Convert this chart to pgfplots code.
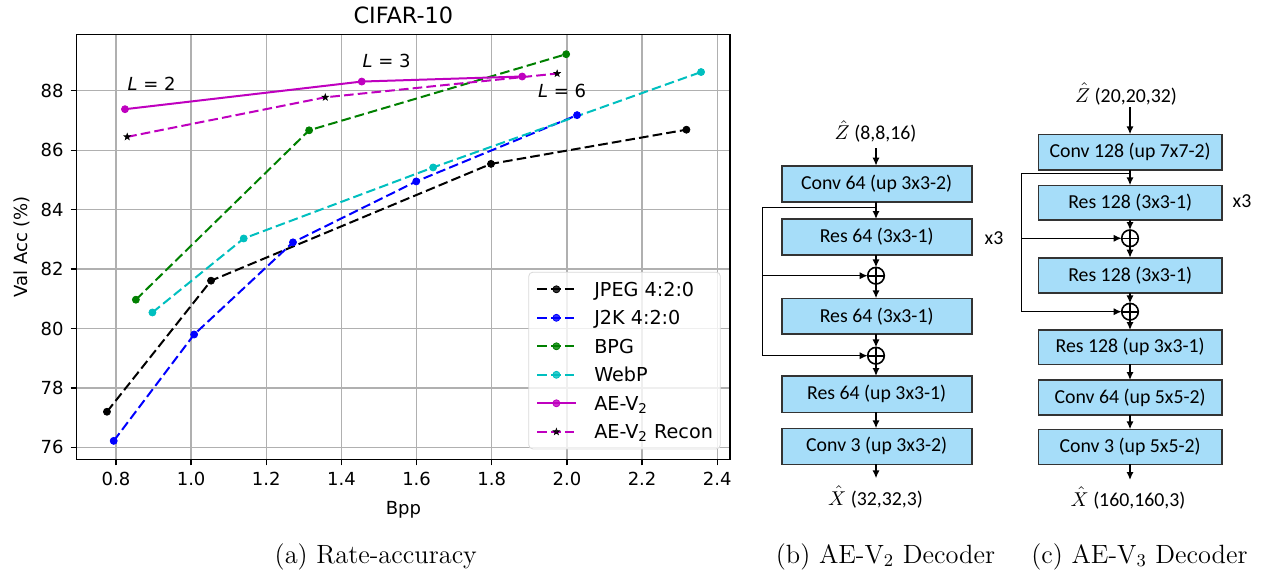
\documentclass[border=0pt]{standalone}
\usepackage{fontspec}
\usepackage{pgfplots}
\pgfplotsset{compat=1.18}
\usetikzlibrary{arrows.meta}
\newfontfamily\dejavu{DejaVu Sans}
\newfontfamily\carlito{Carlito}
\definecolor{mplgreen}{rgb}{0,0.5,0}
\definecolor{mplcyan}{rgb}{0,0.75,0.75}
\definecolor{mplmag}{rgb}{0.75,0,0.75}
\definecolor{gridgray}{RGB}{176,176,176}
\definecolor{boxblue}{RGB}{166,221,249}

\tikzset{
  dashstyle/.style={dash pattern=on 4.8pt off 2.1pt},
  lab/.style={anchor=base west, inner sep=0pt, font=\dejavu\fontsize{9}{11}\selectfont},
}

% filled five-pointed star, like matplotlib's '*'
\pgfdeclareplotmark{fstar}{%
  \pgfpathmoveto{\pgfpointpolar{90}{\pgfplotmarksize}}%
  \pgfpathlineto{\pgfpointpolar{126}{0.4\pgfplotmarksize}}%
  \pgfpathlineto{\pgfpointpolar{162}{\pgfplotmarksize}}%
  \pgfpathlineto{\pgfpointpolar{198}{0.4\pgfplotmarksize}}%
  \pgfpathlineto{\pgfpointpolar{234}{\pgfplotmarksize}}%
  \pgfpathlineto{\pgfpointpolar{270}{0.4\pgfplotmarksize}}%
  \pgfpathlineto{\pgfpointpolar{306}{\pgfplotmarksize}}%
  \pgfpathlineto{\pgfpointpolar{342}{0.4\pgfplotmarksize}}%
  \pgfpathlineto{\pgfpointpolar{18}{\pgfplotmarksize}}%
  \pgfpathlineto{\pgfpointpolar{54}{0.4\pgfplotmarksize}}%
  \pgfpathclose\pgfusepathqfillstroke}

\newcommand\blk[5]{%
  \draw[blk] (#1,#3) rectangle (#2,#4);
  \node[boxtext] at ({(#1+#2)/2},{(#3+#4)/2}) {#5};}
\newcommand\oplusat[2]{%
  \draw[line width=0.8pt] (#1,#2) circle[radius=8.3];
  \draw[line width=0.8pt] (#1-8.3,#2) -- (#1+8.3,#2) (#1,#2-8.3) -- (#1,#2+8.3);}

\begin{document}
\begin{tikzpicture}
\path[use as bounding box] (0,0) rectangle (632pt,-286.5pt);

\begin{axis}[
  at={(38.35pt,-229.65pt)}, anchor=south west,
  width=326.65pt, height=212.5pt, scale only axis,
  xmin=0.6955, xmax=2.434, ymin=75.6, ymax=89.9,
  xtick={0.8,1.0,1.2,1.4,1.6,1.8,2.0,2.2,2.4},
  ytick={76,78,80,82,84,86,88},
  xticklabel style={/pgf/number format/.cd, fixed, fixed zerofill, precision=1},
  /pgf/number format/assume math mode=true,
  tick label style={font=\dejavu\fontsize{9}{11}\selectfont},
  grid=major, grid style={gridgray, line width=0.7pt},
  axis line style={black, line width=0.7pt},
  tick style={black, line width=0.7pt},
  major tick length=3pt, tick align=outside, tick pos=left,
  title={CIFAR-10},
  every axis title/.style={at={(rel axis cs:0.5,1)}, anchor=base, yshift=5.5pt,
    font=\dejavu\fontsize{11.2}{13}\selectfont},
  xlabel={Bpp}, ylabel={Val Acc (\%)},
  every axis x label/.style={at={(rel axis cs:0.5,0)}, anchor=base, yshift=-27.7pt,
    font=\dejavu\fontsize{9}{11}\selectfont},
  every axis y label/.style={at={(rel axis cs:0,0.5)}, xshift=-27.35pt, rotate=90,
    anchor=center, font=\dejavu\fontsize{9}{11}\selectfont},
  legend cell align=left,
  legend image code/.code={\draw[mark repeat=2,mark phase=2,#1]
    plot coordinates {(0pt,0pt) (9.6pt,0pt) (19.2pt,0pt)};},
  legend style={at={(rel axis cs:1,0)}, anchor=south east, xshift=-4.65pt, yshift=5pt,
    draw=black!15, rounded corners=2pt, fill=white, fill opacity=0.8,
    text opacity=1, draw opacity=1,
    font=\dejavu\fontsize{9.6}{11}\selectfont,
    inner xsep=3.7pt, inner ysep=2.55pt, row sep=2.25pt,
    nodes={inner sep=0pt, text height=9.4pt, text depth=2.6pt},
    /tikz/every odd column/.append style={column sep=8.85pt}},
  every axis plot/.append style={line width=1pt},
]
\addplot[black, dashstyle, mark=*, mark size=1.75pt, mark options={solid, line width=0.4pt}]
  coordinates {(0.776,77.20) (1.053,81.61) (1.798,85.54) (2.318,86.69)};
\addlegendentry{JPEG 4:2:0}
\addplot[blue, dashstyle, mark=*, mark size=1.75pt, mark options={solid, line width=0.4pt}]
  coordinates {(0.794,76.22) (1.008,79.80) (1.271,82.90) (1.599,84.95) (2.027,87.18)};
\addlegendentry{J2K 4:2:0}
\addplot[mplgreen, dashstyle, mark=*, mark size=1.75pt, mark options={solid, line width=0.4pt}]
  coordinates {(0.853,80.97) (1.314,86.67) (1.998,89.23)};
\addlegendentry{BPG}
\addplot[mplcyan, dashstyle, mark=*, mark size=1.75pt, mark options={solid, line width=0.4pt}]
  coordinates {(0.897,80.54) (1.140,83.03) (1.644,85.42) (2.357,88.63)};
\addlegendentry{WebP}
\addplot[mplmag, solid, mark=*, mark size=1.75pt, mark options={solid, line width=0.4pt}]
  coordinates {(0.824,87.38) (1.454,88.31) (1.881,88.48)};
\addlegendentry{AE-V\textsubscript{2}}
\addplot[mplmag, dashstyle, mark=fstar, mark size=1.7pt,
  mark options={solid, black, fill=black, line width=0.3pt}]
  coordinates {(0.830,86.45) (1.357,87.78) (1.974,88.58)};
\addlegendentry{AE-V\textsubscript{2} Recon}

\node[lab] at (axis cs:0.830,88.00) {\itshape L\upshape{} = 2};
\node[lab] at (axis cs:1.455,88.77) {\itshape L\upshape{} = 3};
\node[lab] at (axis cs:1.922,87.78) {\itshape L\upshape{} = 6};
\end{axis}

\begin{scope}[x=0.5pt, y=-0.5pt,
  blk/.style={draw=black!80, line width=0.8pt, fill=boxblue},
  boxtext/.style={font=\carlito\fontsize{9.9}{12}\selectfont, inner sep=0pt},
  lbl/.style={font=\carlito\fontsize{9.9}{12}\selectfont, inner sep=0pt, anchor=base},
  arr/.style={-{Latex[length=4pt,width=3.6pt]}, line width=0.75pt}]

% (b) AE-V2 decoder
\node[lbl] at (875.5,139.3) {$\hat{Z}$ (8,8,16)};
\draw[arr] (876,148.3) -- (876,165.7);
\blk{781.7}{971.7}{165.7}{201.7}{Conv 64 (up 3x3-2)}
\draw[arr] (876,201.7) -- (876,219);
\blk{781.7}{971.7}{219}{255}{Res 64 (3x3-1)}
\node[lbl] at (994,244) {x3};
\draw[arr] (876,255) -- (876,267.4);
\oplusat{876}{275.7}
\draw[arr] (876,284) -- (876,298.3);
\blk{781.7}{971.7}{298.3}{334}{Res 64 (3x3-1)}
\draw[arr] (876,334) -- (876,347.4);
\oplusat{876}{355.7}
\draw[arr] (876,364) -- (876,376);
\blk{781.7}{971.7}{376}{412.3}{Res 64 (up 3x3-1)}
\draw[arr] (876,412.3) -- (876,428.3);
\blk{781.7}{971.7}{428.3}{464.3}{Conv 3 (up 3x3-2)}
\draw[arr] (876,464.3) -- (876,478.3);
\node[lbl] at (875.5,505) {$\hat{X}$ (32,32,3)};
\draw[line width=0.75pt] (876,207.3) -- (762.7,207.3) -- (762.7,355.7);
\draw[arr] (762.7,355.7) -- (867.7,355.7);
\draw[arr] (762.7,275.7) -- (867.7,275.7);

% (c) AE-V3 decoder
\node[lbl] at (1126,102) {$\hat{Z}$ (20,20,32)};
\draw[arr] (1130,107) -- (1130,134.3);
\blk{1038.3}{1222}{134.3}{170}{Conv 128 (up 7x7-2)}
\draw[arr] (1130,170) -- (1130,185.3);
\blk{1038.3}{1222}{185.3}{220}{Res 128 (3x3-1)}
\node[lbl] at (1242,207) {x3};
\draw[arr] (1130,220) -- (1130,230);
\oplusat{1130}{238.3}
\draw[arr] (1130,246.6) -- (1130,257.7);
\blk{1038.3}{1222}{257.7}{292.7}{Res 128 (3x3-1)}
\draw[arr] (1130,292.7) -- (1130,303.4);
\oplusat{1130}{311.7}
\draw[arr] (1130,320) -- (1130,330);
\blk{1038.3}{1222}{330}{364.3}{Res 128 (up 3x3-1)}
\draw[arr] (1130,364.3) -- (1130,380);
\blk{1038.3}{1222}{380}{415}{Conv 64 (up 5x5-2)}
\draw[arr] (1130,415) -- (1130,429.3);
\blk{1038.3}{1222}{429.3}{464.3}{Conv 3 (up 5x5-2)}
\draw[arr] (1130,464.3) -- (1130,480);
\node[lbl] at (1128,506) {$\hat{X}$ (160,160,3)};
\draw[line width=0.75pt] (1130,173.3) -- (1021.7,173.3) -- (1021.7,311.7);
\draw[arr] (1021.7,311.7) -- (1121.7,311.7);
\draw[arr] (1021.7,238.3) -- (1121.7,238.3);

% captions
\node[anchor=base, font=\fontsize{13.2}{15}\selectfont, inner sep=0pt]
  at (375.8,563.3) {(a) Rate-accuracy};
\node[anchor=base, font=\fontsize{13.2}{15}\selectfont, inner sep=0pt]
  at (885.5,563.3) {(b) AE-V$_2$ Decoder};
\node[anchor=base, font=\fontsize{13.2}{15}\selectfont, inner sep=0pt]
  at (1139.5,563.3) {(c) AE-V$_3$ Decoder};
\end{scope}
\end{tikzpicture}
\end{document}
